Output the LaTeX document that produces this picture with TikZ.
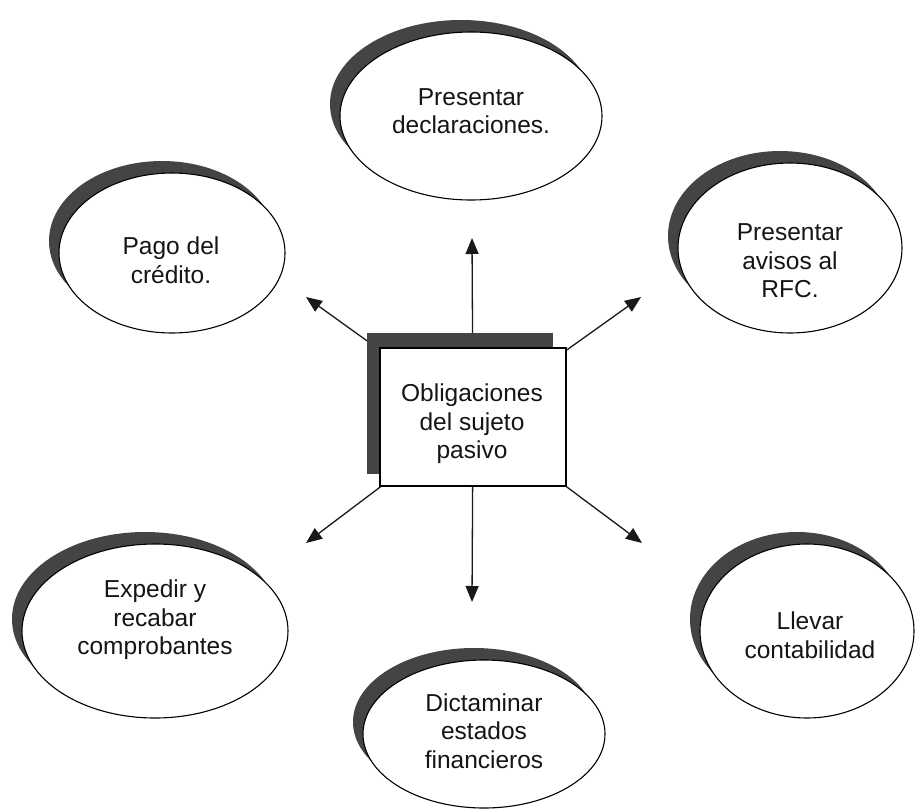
\documentclass[tikz,border=0pt]{standalone}
\usepackage{fontspec}
\setmainfont{Liberation Sans}
\usetikzlibrary{shapes.geometric,arrows.meta}
\pgfdeclarelayer{paper}
\pgfdeclarelayer{back}
\pgfsetlayers{paper,back,main}
\definecolor{shade}{HTML}{444444}
\definecolor{ink}{HTML}{151515}
\begin{document}
\begin{tikzpicture}[x=1pt,y=-1pt,
  oval/.style={ellipse, draw=black, line width=1.1pt, fill=white, inner sep=0pt},
  ovalshade/.style={ellipse, fill=shade, draw=none, inner sep=0pt},
  lbl/.style={text=ink, align=center, inner sep=0pt,
    font=\fontsize{24.5}{28.5}\selectfont},
  hubbox/.style={rectangle, draw=black, line width=1.1pt, fill=white, inner sep=0pt,
    minimum width=186pt, minimum height=138pt},
  hubshade/.style={rectangle, fill=shade, draw=none, inner sep=0pt,
    minimum width=186pt, minimum height=141pt},
  link/.style={draw=black!90, line width=1.3pt, -{Triangle[length=16pt,width=13pt]}},
]
% page area
\begin{pgfonlayer}{paper}
  \fill[white] (0,0) rectangle (916,809);
\end{pgfonlayer}
\useasboundingbox (0,0) rectangle (916,809);

% an oval with a crescent shadow to its upper left
\newcommand\shadedoval[5]{%
  \node[ovalshade, minimum width=#4pt, minimum height=#5pt] (#1-sh) at ({#2-10},{#3-12}) {};
  \node[oval, minimum width=#4pt, minimum height=#5pt] (#1) at (#2,#3) {};
}

% outer ovals
\shadedoval{decl}{471}{116}{262}{168}
\shadedoval{pago}{172}{253}{226}{160}
\shadedoval{avisos}{790}{248}{224}{170}
\shadedoval{expedir}{155}{631}{266}{174}
\shadedoval{llevar}{807}{631}{214}{174}
\shadedoval{dictam}{484}{734}{242}{148}

\node[lbl] (decl-t) at (471,111) {Presentar\\declaraciones.};
\node[lbl] (pago-t) at (171,260) {Pago del\\crédito.};
\node[lbl] (avisos-t) at (790,261) {Presentar\\avisos al\\RFC.};
\node[lbl] (expedir-t) at (155,620) {Expedir y\\recabar\\comprobantes};
\node[lbl] (llevar-t) at (810,635) {Llevar\\contabilidad};
\node[lbl] (dictam-t) at (484,731) {Dictaminar\\estados\\financieros};

% central box with its shadow
\node[hubshade] (hub-sh) at (460,403.5) {};
\node[hubbox] (hub) at (473,417) {};
\node[lbl] (hub-t) at (472,424) {Obligaciones\\del sujeto\\pasivo};

% arrow tips
\coordinate (tN)  at (472,238);
\coordinate (tNW) at (306,297);
\coordinate (tNE) at (641,297);
\coordinate (tSW) at (306,543);
\coordinate (tS)  at (472,602);
\coordinate (tSE) at (642,543);

% arrows start under the box and run out to the tips
\begin{pgfonlayer}{back}
  \draw[link] (hub.center) -- (tN);
  \draw[link] (hub.center) -- (tNW);
  \draw[link] (hub.center) -- (tNE);
  \draw[link] (hub.center) -- (tSW);
  \draw[link] (hub.center) -- (tS);
  \draw[link] (hub.center) -- (tSE);
\end{pgfonlayer}
\end{tikzpicture}
\end{document}
